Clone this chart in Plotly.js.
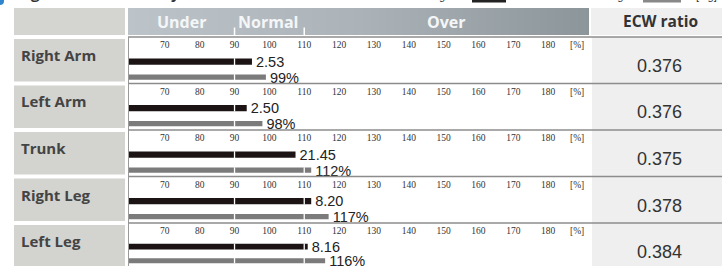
<!DOCTYPE html>
<html>
<head>
<meta charset="utf-8">
<script src="https://cdn.plot.ly/plotly-3.0.1.min.js"></script>
<style>html,body{margin:0;padding:0;background:#fff;}#chart{width:722px;height:266px;}</style>
</head>
<body>
<div id="chart"></div>
<script>
// ---- data ----
const segments = ['Right Arm', 'Left Arm', 'Trunk', 'Right Leg', 'Left Leg'];
const stdPct = [95, 93.5, 107.5, 112, 111];          // black bar (% of standard, based on standard weight)
const stdKg = ['2.53', '2.50', '21.45', '8.20', '8.16'];
const curPct = [99, 98, 112, 117, 116];              // gray bar (% based on current weight)
const curLabel = ['99%', '98%', '112%', '117%', '116%'];
const ecwRatio = ['0.376', '0.376', '0.375', '0.378', '0.384'];
const tickVals = [70, 80, 90, 100, 110, 120, 130, 140, 150, 160, 170, 180];
const rangeNames = ['Under', 'Normal', 'Over'];
const normalBounds = [90, 110];

// ---- geometry helpers ----
const W = 722, H = 266;
const px = v => v / W;
const py = v => 1 - v / H;
const rowTop = i => 37 + 46.5 * i;
const XR = [59.43, 192];
const NB = '\u00A0';

const data = [];
const shapes = [];
const annotations = [];
const layout = {
  width: W, height: H, margin: {l: 0, r: 0, t: 0, b: 0},
  paper_bgcolor: '#ffffff', plot_bgcolor: 'rgba(0,0,0,0)',
  showlegend: false, shapes: shapes, annotations: annotations,
  font: {family: 'Liberation Sans, Arial, sans-serif', color: '#333'}
};

// header gradient (own axes)
data.push({
  type: 'heatmap', xaxis: 'x6', yaxis: 'y6',
  x: [0, 0.5, 1], y: [0, 1], z: [[0, 0.5, 1], [0, 0.5, 1]],
  colorscale: [[0, '#bcc4ca'], [0.5, '#abb3b9'], [1, '#8c959a']],
  zsmooth: 'best', showscale: false, hoverinfo: 'skip'
});
layout.xaxis6 = {domain: [px(128), px(589)], range: [0, 1], visible: false, fixedrange: true, anchor: 'y6'};
layout.yaxis6 = {domain: [py(35), py(8)], range: [0, 1], visible: false, fixedrange: true, anchor: 'x6'};

// background blocks
shapes.push({type: 'rect', xref: 'paper', yref: 'paper', x0: px(14), x1: px(125), y0: py(35), y1: py(8), fillcolor: '#d4d4d0', line: {width: 0}, layer: 'below'});
shapes.push({type: 'rect', xref: 'paper', yref: 'paper', x0: px(591), x1: px(722), y0: py(35), y1: py(8), fillcolor: '#efefef', line: {width: 0}, layer: 'below'});
shapes.push({type: 'rect', xref: 'paper', yref: 'paper', x0: px(592), x1: px(722), y0: 0, y1: py(37), fillcolor: '#efefef', line: {width: 0}, layer: 'below'});

// header labels
const headerX = [182, 268, 446];
rangeNames.forEach((t, k) => annotations.push({
  text: t, xref: 'paper', yref: 'paper', x: px(headerX[k]), y: py(22), xanchor: 'center', yanchor: 'middle',
  showarrow: false, font: {family: 'Open Sans', size: 16, color: '#f4f6f7', weight: 700}
}));
annotations.push({text: 'ECW ratio', xref: 'paper', yref: 'paper', x: px(660), y: py(21), xanchor: 'center', yanchor: 'middle',
  showarrow: false, font: {family: 'Open Sans', size: 15.5, color: '#333', weight: 700}});
normalBounds.forEach(b => shapes.push({type: 'line', xref: 'x', yref: 'paper', x0: b, x1: b, y0: py(35), y1: py(27.5), line: {color: '#ffffff', width: 1.5}}));

// cropped title strip at very top
annotations.push({text: '<b>Segmental Lean Analysis</b>', xref: 'paper', yref: 'paper', x: px(12), y: py(5), xanchor: 'left', yanchor: 'bottom',
  showarrow: false, font: {family: 'Open Sans', size: 15, color: '#333'}});
annotations.push({text: 'Based on standard weight', xref: 'paper', yref: 'paper', x: px(325), y: py(3.5), xanchor: 'left', yanchor: 'bottom',
  showarrow: false, font: {family: 'Liberation Sans', size: 11, color: '#333'}});
annotations.push({text: 'Based on current weight', xref: 'paper', yref: 'paper', x: px(512), y: py(3.5), xanchor: 'left', yanchor: 'bottom',
  showarrow: false, font: {family: 'Liberation Sans', size: 11, color: '#333'}});
annotations.push({text: '[ kg]', xref: 'paper', yref: 'paper', x: px(694), y: py(3.5), xanchor: 'left', yanchor: 'bottom',
  showarrow: false, font: {family: 'Liberation Sans', size: 11, color: '#333'}});
shapes.push({type: 'rect', xref: 'paper', yref: 'paper', x0: px(472), x1: px(506), y0: py(2.5), y1: 1, fillcolor: '#222', line: {width: 0}});
shapes.push({type: 'rect', xref: 'paper', yref: 'paper', x0: px(643), x1: px(681), y0: py(2.5), y1: 1, fillcolor: '#888', line: {width: 0}});
shapes.push({type: 'circle', xref: 'paper', yref: 'paper', x0: px(-4), x1: px(4), y0: py(5), y1: py(-3), fillcolor: '#2f86cf', line: {width: 0}});

// rows
const Y_TOP = 1 + 11 / 16, Y_BOT = -6 / 16;
segments.forEach((name, i) => {
  const T = rowTop(i);
  const n = i + 1;
  const xa = 'x' + n, ya = 'y' + n;
  layout['xaxis' + n] = {
    domain: [px(128), px(590)], range: XR, anchor: ya, side: 'top',
    tickmode: 'array', tickvals: tickVals, ticks: '', showline: false, showgrid: false, zeroline: false,
    tickfont: {family: 'Liberation Serif', size: 9.5, color: '#333'}, fixedrange: true
  };
  layout['yaxis' + n] = {domain: [py(T + 46), py(T + 14)], range: [Y_BOT, Y_TOP], visible: false, fixedrange: true, anchor: xa};

  data.push({type: 'bar', orientation: 'h', xaxis: xa, yaxis: ya, x: [stdPct[i]], y: [1], width: 6.5 / 16,
    marker: {color: '#1c1414', line: {width: 0}}, hoverinfo: 'skip'});
  data.push({type: 'bar', orientation: 'h', xaxis: xa, yaxis: ya, x: [curPct[i]], y: [0], width: 5.5 / 16,
    marker: {color: '#7b7b7b', line: {width: 0}}, hoverinfo: 'skip'});
  data.push({type: 'scatter', mode: 'text', xaxis: xa, yaxis: ya, x: [stdPct[i], curPct[i]], y: [0.9, -0.12],
    text: [NB + stdKg[i], NB + curLabel[i]], textposition: 'middle right', cliponaxis: false,
    textfont: {family: 'Liberation Sans', size: 14.5, color: '#222'}, hoverinfo: 'skip'});

  // white gaps at the normal-range bounds
  normalBounds.forEach(b => {
    if (stdPct[i] > b) shapes.push({type: 'line', xref: xa, yref: ya, x0: b, x1: b, y0: 1 - 0.22, y1: 1 + 0.22, line: {color: '#fff', width: 1.3}});
    if (curPct[i] > b) shapes.push({type: 'line', xref: xa, yref: ya, x0: b, x1: b, y0: -0.19, y1: 0.19, line: {color: '#fff', width: 1.3}});
  });

  // cell backgrounds and borders
  shapes.push({type: 'rect', xref: 'paper', yref: 'paper', x0: px(14), x1: px(125), y0: py(T + 44.5), y1: py(T + 2), fillcolor: '#d3d3cf', line: {width: 0}, layer: 'below'});
  shapes.push({type: 'line', xref: 'paper', yref: 'paper', x0: px(128), x1: px(722), y0: py(T), y1: py(T), line: {color: '#8c8c8c', width: 1.5}});
  shapes.push({type: 'line', xref: 'paper', yref: 'paper', x0: px(128.5), x1: px(128.5), y0: py(T + 46.5), y1: py(T), line: {color: '#9a9a9a', width: 1}});

  annotations.push({text: name, xref: 'paper', yref: 'paper', x: px(19), y: py(T + 18), xanchor: 'left', yanchor: 'middle',
    showarrow: false, font: {family: 'Open Sans', size: 15, color: '#444', weight: 700}});
  annotations.push({text: '[%]', xref: 'paper', yref: 'paper', x: px(577), y: py(T + 8), xanchor: 'center', yanchor: 'middle',
    showarrow: false, font: {family: 'Liberation Serif', size: 9.5, color: '#333'}});
  annotations.push({text: ecwRatio[i], xref: 'paper', yref: 'paper', x: px(659), y: py(T + 29), xanchor: 'center', yanchor: 'middle',
    showarrow: false, font: {family: 'Liberation Sans', size: 18, color: '#333'}});
});

Plotly.newPlot('chart', data, layout, {staticPlot: true, displayModeBar: false});
</script>
</body>
</html>
